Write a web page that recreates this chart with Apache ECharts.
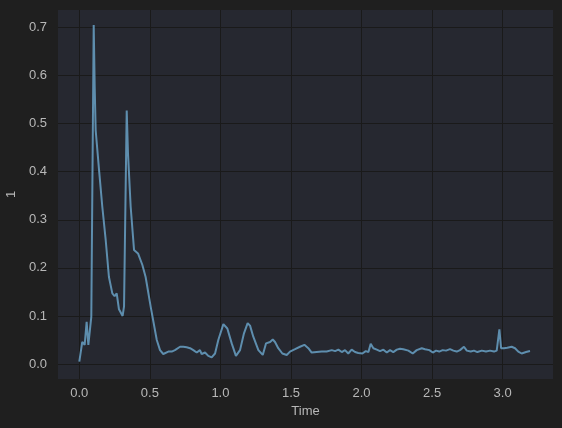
<!DOCTYPE html>
<html>
<head>
<meta charset="utf-8">
<script src="https://cdn.jsdelivr.net/npm/echarts@6/dist/echarts.min.js"></script>
<style>
  html, body { margin: 0; padding: 0; background: #1f1f1f; }
  #chart { width: 562px; height: 428px; }
</style>
</head>
<body>
<div id="chart"></div>
<script>
// signal, time in seconds
const times = [
  0, 0.021, 0.038, 0.052, 0.064, 0.076, 0.085, 0.102, 0.109, 0.116, 0.14, 0.163, 0.187, 0.21,
  0.234, 0.25, 0.265, 0.281, 0.307, 0.317, 0.336, 0.345, 0.364, 0.388, 0.416, 0.447, 0.47,
  0.506, 0.549, 0.572, 0.595, 0.631, 0.655, 0.678, 0.714, 0.737, 0.761, 0.785, 0.808, 0.832,
  0.855, 0.867, 0.891, 0.914, 0.938, 0.962, 0.985, 1.021, 1.049, 1.08, 1.11, 1.139, 1.167,
  1.193, 1.21, 1.233, 1.269, 1.3, 1.323, 1.352, 1.371, 1.387, 1.41, 1.439, 1.47, 1.493, 1.529,
  1.564, 1.595, 1.623, 1.647, 1.682, 1.718, 1.753, 1.789, 1.813, 1.836, 1.86, 1.883, 1.906,
  1.93, 1.954, 1.977, 2.006, 2.03, 2.049, 2.065, 2.084, 2.108, 2.131, 2.155, 2.179, 2.202,
  2.225, 2.25, 2.273, 2.296, 2.332, 2.363, 2.391, 2.427, 2.45, 2.481, 2.505, 2.528, 2.551,
  2.575, 2.599, 2.627, 2.651, 2.675, 2.698, 2.726, 2.746, 2.774, 2.797, 2.821, 2.852, 2.882,
  2.911, 2.939, 2.958, 2.977, 2.989, 3.01, 3.033, 3.064, 3.088, 3.111, 3.135, 3.166, 3.194
];
const values = [
  0.005, 0.046, 0.04, 0.088, 0.04, 0.04, 0.098, 0.705, 0.577, 0.486, 0.403, 0.327, 0.258, 0.181,
  0.147, 0.141, 0.147, 0.114, 0.1, 0.12, 0.527, 0.438, 0.327, 0.237, 0.23, 0.206, 0.181,
  0.119, 0.05, 0.029, 0.021, 0.026, 0.026, 0.029, 0.036, 0.036, 0.035, 0.033, 0.029, 0.024,
  0.029, 0.021, 0.024, 0.017, 0.014, 0.022, 0.05, 0.083, 0.074, 0.043, 0.017, 0.029, 0.064,
  0.085, 0.08, 0.057, 0.029, 0.019, 0.043, 0.046, 0.051, 0.046, 0.033, 0.022, 0.019, 0.026, 0.031,
  0.036, 0.04, 0.033, 0.024, 0.025, 0.026, 0.026, 0.029, 0.027, 0.03, 0.025, 0.029, 0.022,
  0.03, 0.025, 0.023, 0.022, 0.027, 0.025, 0.042, 0.033, 0.03, 0.027, 0.03, 0.024, 0.029,
  0.025, 0.03, 0.032, 0.031, 0.028, 0.022, 0.029, 0.033, 0.031, 0.029, 0.024, 0.028, 0.026,
  0.029, 0.028, 0.031, 0.028, 0.026, 0.029, 0.036, 0.028, 0.026, 0.028, 0.025, 0.028, 0.026,
  0.028, 0.026, 0.028, 0.072, 0.033, 0.033, 0.034, 0.036, 0.033, 0.026, 0.022, 0.025, 0.027
];
const xTicks = [0, 0.5, 1.0, 1.5, 2.0, 2.5, 3.0];
const yTicks = [0, 0.1, 0.2, 0.3, 0.4, 0.5, 0.6, 0.7];

const chart = echarts.init(document.getElementById('chart'));
const labelColor = '#b8b8b8';
const gridColor = '#1a1a1a';

chart.setOption({
  animation: false,
  backgroundColor: '#1f1f1f',
  textStyle: { fontFamily: 'Liberation Sans, Arial, sans-serif' },
  grid: {
    left: 58, right: 9, top: 10, bottom: 49,
    outerBoundsMode: 'none',
    show: true, backgroundColor: '#262830', borderWidth: 0
  },
  xAxis: {
    type: 'value',
    min: -0.151,
    max: 3.357,
    name: 'Time',
    nameLocation: 'middle',
    nameGap: 25,
    nameTextStyle: { color: labelColor, fontSize: 13 },
    axisLine: { show: false },
    axisTick: { show: false, customValues: xTicks },
    axisLabel: {
      customValues: xTicks,
      color: labelColor, fontSize: 13, margin: 8,
      formatter: v => v.toFixed(1)
    },
    splitLine: { show: true, lineStyle: { color: gridColor, width: 1 } }
  },
  yAxis: {
    type: 'value',
    min: -0.031,
    max: 0.736,
    name: '1',
    nameLocation: 'middle',
    nameGap: 33,
    nameTextStyle: { color: labelColor, fontSize: 13 },
    axisLine: { show: false },
    axisTick: { show: false, customValues: yTicks },
    axisLabel: {
      customValues: yTicks,
      color: labelColor, fontSize: 13, margin: 11,
      formatter: v => v.toFixed(1)
    },
    splitLine: { show: true, lineStyle: { color: gridColor, width: 1 } }
  },
  series: [{
    type: 'line',
    data: times.map((t, i) => [t, values[i]]),
    showSymbol: false,
    lineStyle: { color: '#5e8eae', width: 2 },
    itemStyle: { color: '#5e8eae' }
  }]
});
</script>
</body>
</html>
